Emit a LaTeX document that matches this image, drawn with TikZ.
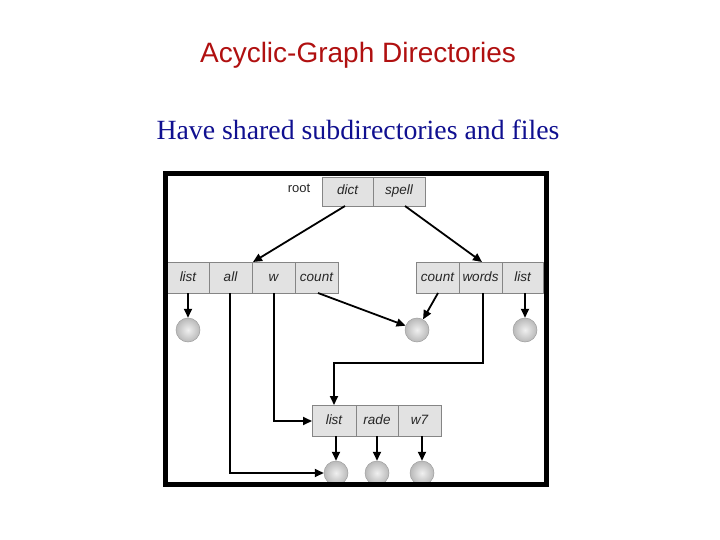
\documentclass[tikz,border=0pt]{standalone}
\usepackage{fontspec}
\setmainfont{Liberation Serif}
\setsansfont{Liberation Sans}
\usetikzlibrary{arrows.meta,shadings}
\definecolor{titlered}{HTML}{B01010}
\definecolor{subblue}{HTML}{101090}
\definecolor{cellfill}{HTML}{E2E2E2}
\definecolor{cellline}{HTML}{858585}
\tikzset{
  cell/.style={draw=cellline, fill=cellfill, line width=0.8pt},
  celltext/.style={font=\sffamily\itshape\fontsize{13.5}{13.5}\selectfont, inner sep=0pt, text height=9.5pt, text depth=2.5pt, text=black!85},
  ball/.style={circle, draw=gray!75, line width=0.5pt, inner color=gray!12, outer color=gray!55, minimum size=24pt, inner sep=0pt},
  conn/.style={line width=1.8pt, -{Triangle[length=9pt,width=8pt]}},
}
\begin{document}
\begin{tikzpicture}[x=1pt,y=-1pt]
\useasboundingbox (0,0) rectangle (720,540);
% titles
\node (title) at (358,55) {\sffamily\fontsize{28}{30}\selectfont\color{titlered}Acyclic-Graph Directories};
\node (sub) at (358,130) {\fontsize{27.8}{30}\selectfont\color{subblue}Have shared subdirectories and files};
\newcommand{\cellbox}[6]{\draw[cell] (#2,#3) rectangle (#4,#5); \node[celltext] (#1) at ({(#2+#4)/2},{(#3+#5)/2}) {#6};}
% root
\node[celltext, font=\sffamily\fontsize{13}{13}\selectfont] (rootlbl) at (299,189) {root};
\cellbox{dict}{322}{177}{373}{206}{dict}
\cellbox{spell}{373}{177}{425}{206}{spell}
% left row
\cellbox{llist}{167}{262}{209}{293}{list}
\cellbox{lall}{209}{262}{252}{293}{all}
\cellbox{lw}{252}{262}{295}{293}{w}
\cellbox{lcount}{295}{262}{338}{293}{count}
% right row
\cellbox{rcount}{416}{262}{459}{293}{count}
\cellbox{rwords}{459}{262}{502}{293}{words}
\cellbox{rlist}{502}{262}{543}{293}{list}
% bottom row
\cellbox{blist}{312}{405}{356}{436}{list}
\cellbox{brade}{356}{405}{398}{436}{rade}
\cellbox{bw7}{398}{405}{441}{436}{w7}
% balls
\node[ball] (b1) at (188,330) {};
\node[ball] (b2) at (417,330) {};
\node[ball] (b3) at (525,330) {};
\node[ball] (b4) at (336,473) {};
\node[ball] (b5) at (377,473) {};
\node[ball] (b6) at (422,473) {};
% coordinates
\coordinate (dictb) at (345,206);
\coordinate (spellb) at (405,206);
\coordinate (ltop) at (253,262);
\coordinate (rtop) at (482,262);
% connectors
\draw[conn] (dictb) -- (ltop);
\draw[conn] (spellb) -- (rtop);
\draw[conn] (b1 |- 0,293) -- (b1);
\draw[conn] (b3 |- 0,293) -- (b3);
\draw[conn] (318,293) -- (b2);
\draw[conn] (438,293) -- (b2);
\draw[conn] (230,293) -- (230,473) -- (b4);
\draw[conn] (274,293) -- (274,421) -- (312,421);
\draw[conn] (483,293) -- (483,363) -- (334,363) -- (334,405);
\draw[conn] (b4 |- 0,436) -- (b4);
\draw[conn] (b5 |- 0,436) -- (b5);
\draw[conn] (b6 |- 0,436) -- (b6);
% frame
\draw[line width=5pt] (165.5,173.5) rectangle (546,484.5);
\end{tikzpicture}
\end{document}
